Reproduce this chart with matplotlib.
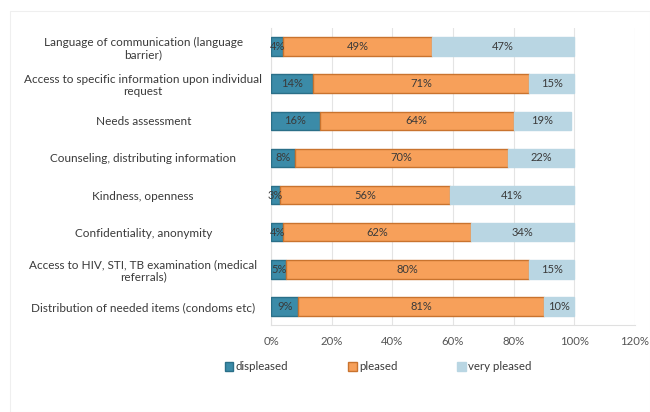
import matplotlib
matplotlib.use("Agg")
import matplotlib.pyplot as plt
import numpy as np

categories = [
    "Language of communication (language\nbarrier)",
    "Access to specific information upon individual\nrequest",
    "Needs assessment",
    "Counseling, distributing information",
    "Kindness, openness",
    "Confidentiality, anonymity",
    "Access to HIV, STI, TB examination (medical\nreferrals)",
    "Distribution of needed items (condoms etc)",
]
displeased = [4, 14, 16, 8, 3, 4, 5, 9]
pleased = [49, 71, 64, 70, 56, 62, 80, 81]
very_pleased = [47, 15, 19, 22, 41, 34, 15, 10]
series_names = ["displeased", "pleased", "very pleased"]
x_ticks = [0, 20, 40, 60, 80, 100, 120]

plt.rcParams["font.family"] = ["Lato", "DejaVu Sans"]

fig = plt.figure(figsize=(6.5, 4.12), dpi=100)
ax = fig.add_axes([271 / 650, 1 - 325 / 412, (635 - 271) / 650, (325 - 28) / 412])

colors = ["#3b8ba8", "#f7a05a", "#b9d6e3"]
edges = ["#2a6f88", "#c9732e", "#b9d6e3"]
text_color = "#3a3a3a"

y = np.arange(len(categories))
left = np.zeros(len(categories))
for vals, name, c, ec in zip([displeased, pleased, very_pleased], series_names, colors, edges):
    vals = np.array(vals, dtype=float)
    bars = ax.barh(y, vals, left=left, height=0.5, color=c, edgecolor=ec,
                   linewidth=1.0, label=name, zorder=3)
    ax.bar_label(bars, labels=[f"{int(v)}%" for v in vals], label_type="center",
                 fontsize=8, color=text_color, zorder=4)
    left += vals

ax.set_ylim(len(categories) - 0.5, -0.5)
ax.set_xlim(0, 120)
ax.set_xticks(x_ticks)
ax.set_xticklabels([f"{t}%" for t in x_ticks], fontsize=8.2, color="#555555")
ax.set_yticks(y)
ax.set_yticklabels(categories, fontsize=8.5, color=text_color, ha="center",
                   linespacing=1.15)
ax.tick_params(axis="y", length=0, pad=92)
ax.tick_params(axis="x", length=0, pad=8)
ax.grid(axis="x", color="#e4e4e4", linewidth=0.8, zorder=0)
for s in ["top", "right"]:
    ax.spines[s].set_visible(False)
ax.spines["left"].set_color("#e0e0e0")
ax.spines["bottom"].set_color("#e0e0e0")

fig.legend(loc="center", bbox_to_anchor=(378 / 650, 1 - 367 / 412), ncol=3,
           frameon=False, fontsize=8.3, handlelength=0.75, handleheight=0.75,
           columnspacing=5.2, handletextpad=0.2, labelcolor=text_color)

border = plt.Rectangle((0.015, 0.0), 0.985, 0.973, transform=fig.transFigure,
                       fill=False, edgecolor="#efefef", linewidth=0.8)
fig.patches.append(border)

fig.savefig("out.png", dpi=100, facecolor="white")
